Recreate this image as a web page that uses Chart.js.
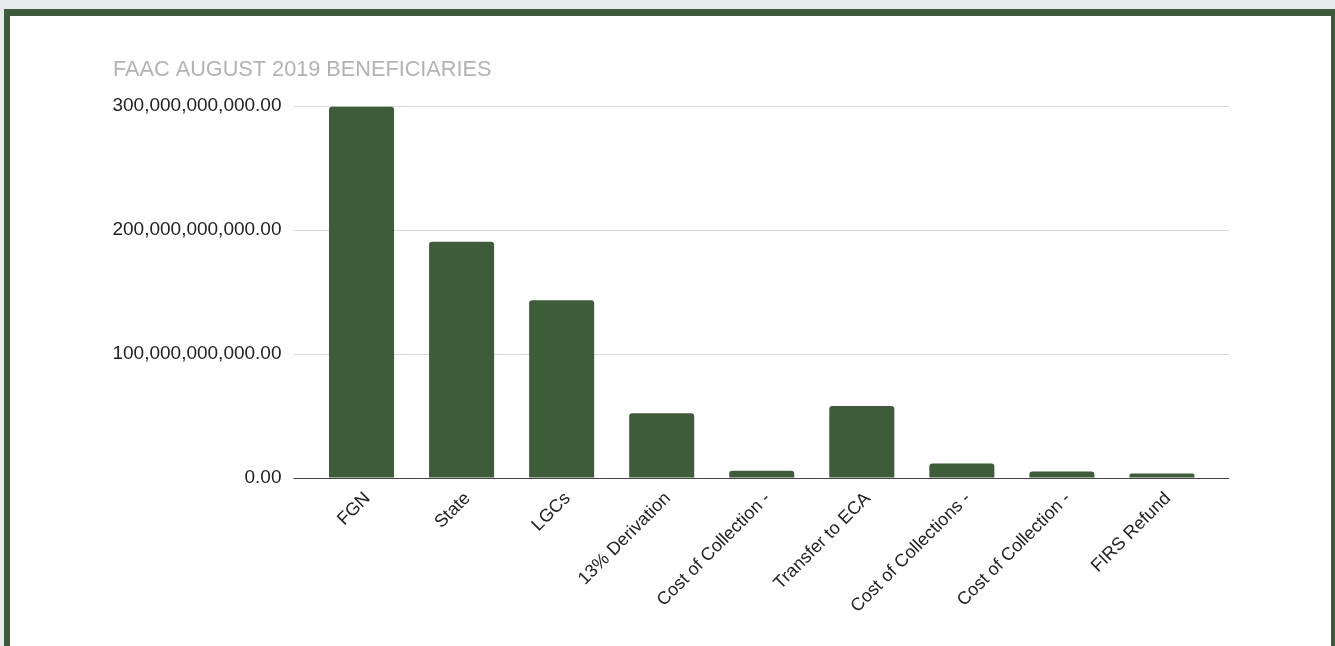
<!DOCTYPE html>
<html>
<head>
<meta charset="utf-8">
<script src="https://cdn.jsdelivr.net/npm/chart.js@4.4.1/dist/chart.umd.min.js"></script>
<style>
  html, body { margin: 0; padding: 0; width: 1335px; height: 646px; overflow: hidden; background: #e8e9eb; }
  #frame { position: absolute; left: 4px; top: 9px; width: 1321px; height: 700px; background: #ffffff;
           border-top: 7px solid #3d5a3e; border-left: 6px solid #3d5a3e; border-right: 6px solid #3d5a3e; }
  #wrap { position: absolute; left: 0; top: 0; width: 1335px; height: 646px; }
</style>
</head>
<body>
<div id="frame"></div>
<div id="wrap"><canvas id="c" width="1335" height="646"></canvas></div>
<script>
const chartTitle = 'FAAC AUGUST 2019 BENEFICIARIES';
const categories = ['FGN', 'State', 'LGCs', '13% Derivation', 'Cost of Collection -',
                    'Transfer to ECA', 'Cost of Collections -', 'Cost of Collection -', 'FIRS Refund'];
const amounts = [299.5e9, 190.5e9, 143.3e9, 52.2e9, 5.9e9, 58.0e9, 11.6e9, 5.2e9, 3.6e9];
const yTicks = [0, 100e9, 200e9, 300e9];

const FONT = "'Liberation Sans', Arial, Helvetica, sans-serif";
const gridColor = (ctx) => (ctx.tick && ctx.tick.value === 0) ? '#444444' : '#d9d9d9';
const fmt = (v) => Number(v).toLocaleString('en-US', { minimumFractionDigits: 2, maximumFractionDigits: 2 });

new Chart(document.getElementById('c'), {
  type: 'bar',
  data: {
    labels: categories,
    datasets: [{
      data: amounts,
      backgroundColor: '#3e5c39',
      borderRadius: 3,
      borderSkipped: 'start',
      barPercentage: 0.65,
      categoryPercentage: 1.0
    }]
  },
  options: {
    responsive: false,
    animation: false,
    devicePixelRatio: 1,
    layout: { padding: { left: 113, right: 106, top: 0, bottom: 0 } },
    plugins: {
      legend: { display: false },
      tooltip: { enabled: false },
      title: {
        display: true,
        text: chartTitle,
        align: 'start',
        color: '#b3b3b3',
        font: { family: FONT, size: 21.7, weight: 'normal', lineHeight: 1.2 },
        padding: { top: 57, bottom: 23 }
      }
    },
    scales: {
      x: {
        grid: { display: false, drawTicks: false },
        border: { display: false },
        ticks: {
          autoSkip: false,
          maxRotation: 45,
          minRotation: 45,
          padding: 10,
          labelOffset: 6,
          color: '#222222',
          font: { family: FONT, size: 18 }
        },
        afterFit: (s) => { s.height = 168; }
      },
      y: {
        position: 'left',
        min: 0,
        max: 300e9,
        afterBuildTicks: (s) => { s.ticks = yTicks.map(v => ({ value: v })); },
        grid: { color: gridColor, tickColor: gridColor, lineWidth: 1, drawTicks: true, tickLength: 18 },
        border: { display: false },
        ticks: {
          padding: 12,
          color: '#222222',
          font: { family: FONT, size: 19 },
          callback: (v) => fmt(v)
        },
        afterFit: (s) => { s.width = 198.5; }
      },
      y2: {
        position: 'right',
        min: 0,
        max: 300e9,
        afterBuildTicks: (s) => { s.ticks = yTicks.map(v => ({ value: v })); },
        grid: { color: gridColor, tickColor: gridColor, lineWidth: 1, drawOnChartArea: false, drawTicks: true, tickLength: 17 },
        border: { display: false },
        ticks: { display: false },
        afterFit: (s) => { s.width = 17; }
      }
    }
  }
});
</script>
</body>
</html>
